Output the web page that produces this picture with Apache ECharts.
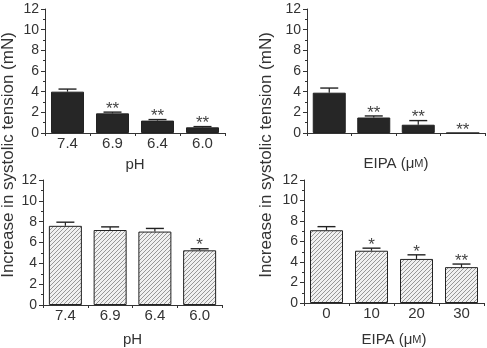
<!DOCTYPE html>
<html>
<head>
<meta charset="utf-8">
<script src="https://cdn.jsdelivr.net/npm/echarts@6/dist/echarts.min.js"></script>
<style>
html, body { margin: 0; background: #fff; }
#chart { width: 487px; height: 348px; }
</style>
</head>
<body>
<div id="chart"></div>
<script>
// categories
var phCats = ['7.4', '6.9', '6.4', '6.0']
var eipaCats = ['0', '10', '20', '30']
var yTicks = [0, 2, 4, 6, 8, 10, 12]

// top row (dark bars)
var phTopMean = [4.0, 1.9, 1.2, 0.55]
var phTopErr = [0.25, 0.12, 0.1, 0.07]
var phTopStars = ['', '**', '**', '**']
var eipaTopMean = [3.9, 1.5, 0.8, 0]
var eipaTopErr = [0.45, 0.15, 0.4, 0]
var eipaTopStars = ['', '**', '**', '**']

// bottom row (hatched bars)
var phBotMean = [7.6, 7.2, 7.05, 5.25]
var phBotErr = [0.35, 0.3, 0.3, 0.15]
var phBotStars = ['', '', '', '*']
var eipaBotMean = [7.1, 5.1, 4.3, 3.5]
var eipaBotErr = [0.35, 0.25, 0.4, 0.3]
var eipaBotStars = ['', '*', '*', '**']

var FONT = '"Liberation Sans", Arial, sans-serif'
var INK = '#333'

// diagonal hatch fill for the lower bars
function hatch() {
  var c = document.createElement('canvas')
  c.width = 4
  c.height = 4
  var ctx = c.getContext('2d')
  ctx.fillStyle = '#f0f0f0'
  ctx.fillRect(0, 0, 4, 4)
  ctx.strokeStyle = '#8c8c8c'
  ctx.lineWidth = 0.9
  ctx.beginPath()
  ctx.moveTo(0, 4); ctx.lineTo(4, 0)
  ctx.moveTo(-1, 1); ctx.lineTo(1, -1)
  ctx.moveTo(3, 5); ctx.lineTo(5, 3)
  ctx.stroke()
  return c
}
var hatchFill = { image: hatch(), repeat: 'repeat' }

function xAxis(idx, cats, name, showLabels, nameGap) {
  return {
    type: 'category',
    gridIndex: idx,
    data: cats,
    boundaryGap: true,
    name: name,
    nameLocation: 'middle',
    nameGap: nameGap,
    nameTextStyle: {
      color: INK, fontFamily: FONT, fontSize: 15,
      rich: {
        a: { color: INK, fontFamily: FONT, fontSize: 15 },
        b: { color: INK, fontFamily: FONT, fontSize: 11 }
      }
    },
    axisLine: { lineStyle: { color: INK, width: 1 } },
    axisTick: { show: true, length: 3, lineStyle: { color: INK } },
    axisLabel: { show: showLabels, color: INK, fontFamily: FONT, fontSize: 15, margin: 3 }
  }
}

function yAxis(idx) {
  return {
    type: 'value',
    gridIndex: idx,
    min: yTicks[0],
    max: yTicks[yTicks.length - 1],
    interval: 2,
    axisLine: { show: true, lineStyle: { color: INK, width: 1 } },
    axisTick: { show: true, length: 4, lineStyle: { color: INK } },
    minorTick: { show: true, splitNumber: 2, length: 2, lineStyle: { color: INK } },
    splitLine: { show: false },
    axisLabel: { color: INK, fontFamily: FONT, fontSize: 14, margin: 6 }
  }
}

function barSeries(idx, mean, fill) {
  return {
    type: 'bar',
    xAxisIndex: idx,
    yAxisIndex: idx,
    barWidth: 33,
    data: mean,
    itemStyle: { color: fill, borderColor: '#222', borderWidth: 1 },
    silent: true
  }
}

function errSeries(idx, mean, err, stars) {
  var data = mean.map(function(m, i) { return [i, m, err[i]] })
  return {
    type: 'custom',
    xAxisIndex: idx,
    yAxisIndex: idx,
    data: data,
    z: 5,
    renderItem: function(params, api) {
      var i = api.value(0)
      var m = api.value(1)
      var e = api.value(2)
      var base = api.coord([i, m])
      var tip = api.coord([i, m + e])
      var kids = []
      if (e > 0) {
        kids.push({ type: 'line', shape: { x1: base[0], y1: base[1], x2: tip[0], y2: tip[1] }, style: { stroke: '#222', lineWidth: 1.2 } })
        kids.push({ type: 'line', shape: { x1: tip[0] - 9, y1: tip[1], x2: tip[0] + 9, y2: tip[1] }, style: { stroke: '#222', lineWidth: 1.4 } })
      }
      var s = stars[params.dataIndex]
      if (s) {
        kids.push({ type: 'text', style: { text: s, x: tip[0], y: tip[1] - 3, align: 'center', verticalAlign: 'middle', fill: '#444', font: '17px ' + FONT } })
      }
      return { type: 'group', children: kids }
    }
  }
}

var chart = echarts.init(document.getElementById('chart'))
chart.setOption({
  backgroundColor: '#fff',
  animation: false,
  grid: [
    { left: 45, top: 9, width: 180, height: 124 },
    { left: 307, top: 9, width: 178, height: 124 },
    { left: 43, top: 180, width: 179, height: 125.5 },
    { left: 304, top: 180, width: 180, height: 125.5 }
  ],
  xAxis: [
    xAxis(0, phCats, 'pH', true, 24),
    xAxis(1, eipaCats, '{a|EIPA (μ}{b|M}{a|)}', false, 23),
    xAxis(2, phCats, 'pH', true, 27),
    xAxis(3, eipaCats, '{a|EIPA (μ}{b|M}{a|)}', true, 29)
  ],
  yAxis: [yAxis(0), yAxis(1), yAxis(2), yAxis(3)],
  graphic: [
    { type: 'text', x: 8, y: 155, rotation: Math.PI / 2, style: { text: 'Increase in systolic tension (mN)', align: 'center', verticalAlign: 'middle', fill: INK, font: '17px ' + FONT } },
    { type: 'text', x: 266, y: 155, rotation: Math.PI / 2, style: { text: 'Increase in systolic tension (mN)', align: 'center', verticalAlign: 'middle', fill: INK, font: '17px ' + FONT } }
  ],
  series: [
    barSeries(0, phTopMean, '#262626'),
    errSeries(0, phTopMean, phTopErr, phTopStars),
    barSeries(1, eipaTopMean, '#262626'),
    errSeries(1, eipaTopMean, eipaTopErr, eipaTopStars),
    barSeries(2, phBotMean, hatchFill),
    errSeries(2, phBotMean, phBotErr, phBotStars),
    barSeries(3, eipaBotMean, hatchFill),
    errSeries(3, eipaBotMean, eipaBotErr, eipaBotStars)
  ]
})
</script>
</body>
</html>
